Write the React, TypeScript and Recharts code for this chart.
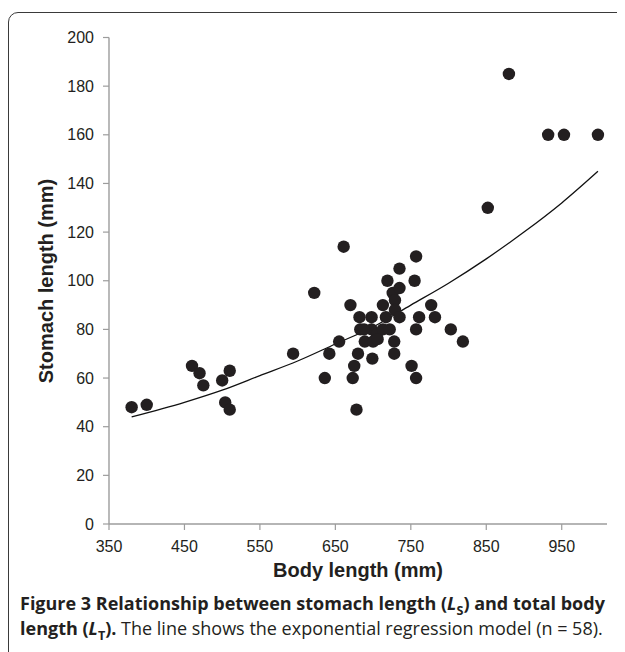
import React from 'react';
import { ComposedChart, Scatter, Line, XAxis, YAxis } from 'recharts';

const bodyLength = [
  380, 400, 460, 470, 475, 500, 504, 510, 510, 594,
  622, 636, 642, 655, 661, 670, 673, 675, 678, 680,
  682, 683, 689, 698, 698, 699, 700, 705, 713, 713,
  717, 719, 726, 728, 728, 729, 729, 735, 735, 735,
  751, 755, 757, 757, 757, 761, 777, 782, 803, 819,
  852, 880, 932, 953, 998, 688, 706, 722,
];
const stomachLength = [
  48, 49, 65, 62, 57, 59, 50, 63, 47, 70,
  95, 60, 70, 75, 114, 90, 60, 65, 47, 70,
  85, 80, 75, 85, 80, 68, 75, 78, 90, 80,
  85, 100, 95, 75, 70, 92, 88, 105, 97, 85,
  65, 100, 110, 80, 60, 85, 90, 85, 80, 75,
  130, 185, 160, 160, 160, 80, 76, 80,
];

const curveX = [380, 450, 500, 550, 600, 650, 700, 750, 800, 850, 900, 950, 998];
const curveY = [44, 50, 55, 61, 67, 74, 81, 90, 99, 109, 120, 132, 145];

const xTicks = [350, 450, 550, 650, 750, 850, 950];
const yTicks = [0, 20, 40, 60, 80, 100, 120, 140, 160, 180, 200];

const points = bodyLength.map((x, i) => ({ x, y: stomachLength[i] }));
const curve = curveX.map((x, i) => ({ x, y: curveY[i] }));

const tickStyle = { fill: '#231f20', fontSize: 16, fontFamily: '"Liberation Sans", Arial, sans-serif' };
const axisStroke = '#9c9c9c';

export default function App() {
  return (
    <div style={{ position: 'relative', width: 617, height: 644, overflow: 'hidden', background: '#fff' }}>
      <div
        style={{
          position: 'absolute', left: 0, top: 4, width: 680, height: 720,
          border: '1.5px solid #3a3a3a', borderRadius: 10, boxSizing: 'border-box',
        }}
      />
      <div style={{ position: 'absolute', left: 0, top: 0 }}>
        <ComposedChart width={617} height={580} margin={{ top: 29.5, right: 18, left: 0, bottom: 24 }}>
          <XAxis
            type="number"
            dataKey="x"
            domain={[350, 1010]}
            ticks={xTicks}
            allowDataOverflow
            height={40}
            axisLine={{ stroke: axisStroke, strokeWidth: 1.4 }}
            tickLine={{ stroke: axisStroke, strokeWidth: 1.2 }}
            tickSize={6}
            tickMargin={11}
            tick={tickStyle}
            label={{
              content: () => (
                <text x={350} y={562} textAnchor="middle" dominantBaseline="central"
                  style={{ fontSize: 20, fontWeight: 700, fill: '#231f20', fontFamily: '"Liberation Sans", Arial, sans-serif' }}>
                  Body length (mm)
                </text>
              ),
            }}
          />
          <YAxis
            type="number"
            dataKey="y"
            domain={[0, 200]}
            ticks={yTicks}
            width={101}
            axisLine={{ stroke: axisStroke, strokeWidth: 1.4 }}
            tickLine={{ stroke: axisStroke, strokeWidth: 1.2 }}
            tickSize={6}
            tickMargin={9}
            tick={tickStyle}
            label={{
              content: () => (
                <text x={38} y={273} transform="rotate(-90 38 273)" textAnchor="middle" dominantBaseline="central"
                  style={{ fontSize: 20, fontWeight: 700, fill: '#231f20', fontFamily: '"Liberation Sans", Arial, sans-serif' }}>
                  Stomach length (mm)
                </text>
              ),
            }}
          />
          <Line data={curve} dataKey="y" type="monotone" stroke="#111" strokeWidth={1.3} dot={false} isAnimationActive={false} />
          <Scatter data={points} dataKey="y" fill="#231f20" isAnimationActive={false}
            shape={(p: any) => <circle cx={p.cx} cy={p.cy} r={6.2} fill="#231f20" />} />
        </ComposedChart>
      </div>
      <div
        style={{
          position: 'absolute', left: 12, top: 583, width: 610,
          fontFamily: '"Open Sans", "Noto Sans", sans-serif', fontSize: 18, lineHeight: '25px', color: '#231f20',
          whiteSpace: 'nowrap', letterSpacing: 0,
        }}
      >
        <div style={{ fontWeight: 700 }}>
          Figure 3 Relationship between stomach length (<i>L</i><sub style={{ fontSize: '70%', lineHeight: 0 }}>S</sub>) and total body
        </div>
        <div>
          <b>length (<i>L</i><sub style={{ fontSize: '70%', lineHeight: 0 }}>T</sub>).</b> The line shows the exponential regression model (n = 58).
        </div>
      </div>
    </div>
  );
}
